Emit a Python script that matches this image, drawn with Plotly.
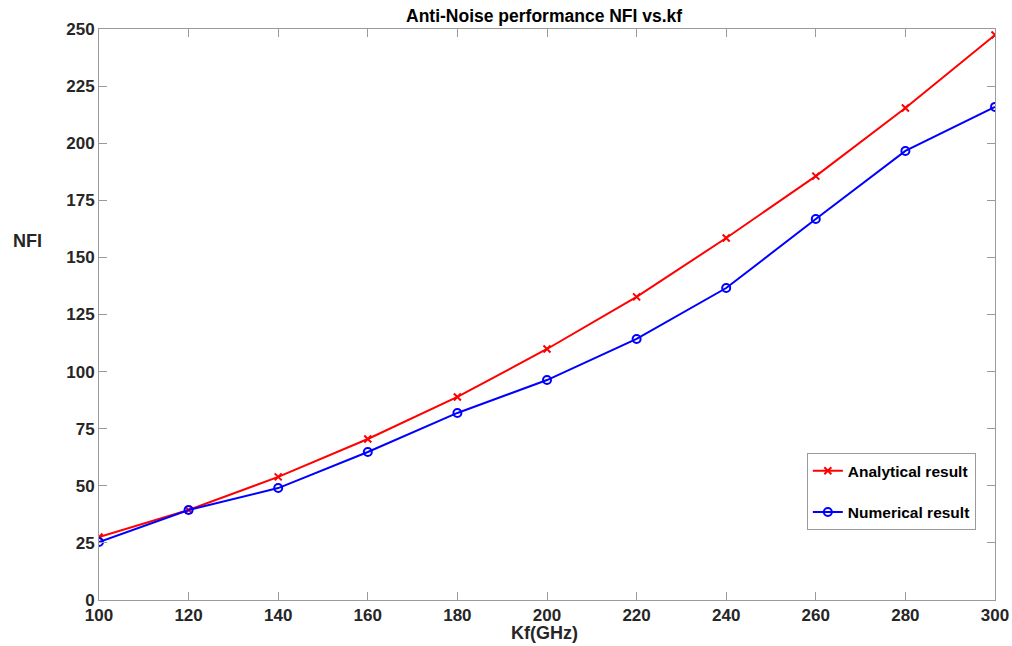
import plotly.graph_objects as go

# Frequency sweep (GHz) and NFI values
kf = [100, 120, 140, 160, 180, 200, 220, 240, 260, 280, 300]
analytical = [27.6, 39.4, 53.9, 70.5, 88.9, 109.9, 132.7, 158.5, 185.6, 215.4, 247.4]
numerical = [25.4, 39.4, 49.0, 64.8, 81.9, 96.3, 114.3, 136.6, 166.8, 196.6, 215.9]

x_ticks = [100, 120, 140, 160, 180, 200, 220, 240, 260, 280, 300]
y_ticks = [0, 25, 50, 75, 100, 125, 150, 175, 200, 225, 250]

FONT = "Liberation Sans, Arial, Helvetica, sans-serif"
AXIS_GRAY = "#9a9a9a"
TICK_TEXT = "#262626"

fig = go.Figure()
fig.add_trace(go.Scatter(
    x=kf, y=analytical, mode="lines+markers", name="Analytical result",
    legendgroup="a",
    line=dict(color="#ff0000", width=2),
    marker=dict(symbol="x-thin", size=7, line=dict(color="#ff0000", width=2)),
))
fig.add_trace(go.Scatter(
    x=kf, y=numerical, mode="lines+markers", name="Numerical result",
    legendgroup="n",
    line=dict(color="#0000ff", width=2),
    marker=dict(symbol="circle-open", size=8, line=dict(color="#0000ff", width=2)),
))

axis_common = dict(
    showline=True, linecolor=AXIS_GRAY, linewidth=1, mirror="ticks",
    ticks="inside", ticklen=8, tickcolor=AXIS_GRAY, tickwidth=1,
    showgrid=False, zeroline=False, automargin=False,
    tickfont=dict(family=FONT, size=17, color=TICK_TEXT, weight="bold"),
)

fig.update_xaxes(range=[100, 300], tickvals=x_ticks, **axis_common)
fig.update_yaxes(range=[0, 250], tickvals=y_ticks, **axis_common)

fig.update_layout(
    width=1012, height=646,
    margin=dict(l=99, r=17, t=29, b=46, autoexpand=False),
    paper_bgcolor="white", plot_bgcolor="white",
    showlegend=True,
    legend=dict(
        x=0.79, y=0.257, xanchor="left", yanchor="top",
        bgcolor="white", bordercolor=AXIS_GRAY, borderwidth=1,
        font=dict(family=FONT, size=15.5, color="#000000", weight="bold"),
        itemwidth=30, tracegroupgap=18,
    ),
    annotations=[
        dict(text="Anti-Noise performance NFI vs.kf", xref="paper", yref="paper",
             x=0.497, y=1, yshift=13, xanchor="center", yanchor="middle",
             showarrow=False,
             font=dict(family=FONT, size=17.5, color="#000000", weight="bold")),
        dict(text="NFI", xref="paper", yref="paper", x=0, xshift=-72, y=0.629,
             xanchor="center", yanchor="middle", showarrow=False,
             font=dict(family=FONT, size=18, color=TICK_TEXT, weight="bold")),
        dict(text="Kf(GHz)", xref="paper", yref="paper", x=0.497, y=0, yshift=-33,
             xanchor="center", yanchor="middle", showarrow=False,
             font=dict(family=FONT, size=18, color=TICK_TEXT, weight="bold")),
    ],
)

fig.write_html("out.html")
